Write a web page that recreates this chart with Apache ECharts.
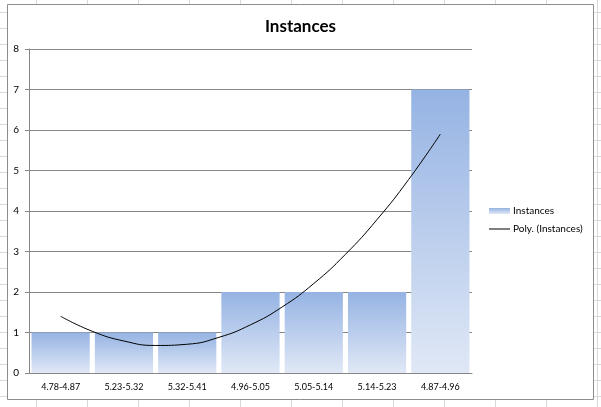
<!DOCTYPE html>
<html>
<head>
<meta charset="utf-8">
<script src="https://cdn.jsdelivr.net/npm/echarts@6/dist/echarts.min.js"></script>
<style>
html, body { margin: 0; padding: 0; }
body {
	width: 601px; height: 407px; overflow: hidden;
	background-color: #fff;
	background-image:
		linear-gradient(to right, #d9d9d9 1px, transparent 1px),
		linear-gradient(to bottom, #d9d9d9 1px, transparent 1px);
	background-size: 51px 16px, 51px 16px;
	background-position: 36px 0, 0 12px;
}
#chart { width: 601px; height: 407px; }
</style>
</head>
<body>
<div id="chart"></div>
<script>
var categories = ['4.78-4.87', '5.23-5.32', '5.32-5.41', '4.96-5.05', '5.05-5.14', '5.14-5.23', '4.87-4.96'];
var instances = [1, 1, 1, 2, 2, 2, 7];
// trend line, position 1 = first category centre
var trendPos = [1, 1.5, 2, 2.5, 3, 3.5, 4, 4.5, 5, 5.5, 6, 6.5, 7];
var trendVal = [1.40, 1.03, 0.79, 0.68, 0.71, 0.88, 1.19, 1.63, 2.21, 2.93, 3.79, 4.78, 5.9];
var yTicks = [0, 8, 1];

var chart = echarts.init(document.getElementById('chart'));
var font = 'Lato';
var trendData = trendPos.map(function (p, i) { return [p, trendVal[i]]; });

var option = {
	backgroundColor: 'transparent',
	animation: false,
	title: {
		text: 'Instances',
		left: 'center',
		top: 13,
		textStyle: { fontFamily: font, fontSize: 17, fontWeight: 'bold', color: '#000' }
	},
	graphic: [{
		type: 'rect',
		z: -10,
		shape: { x: 7.5, y: 4.5, width: 586, height: 395 },
		style: { fill: '#fff', stroke: '#8c8c8c', lineWidth: 1 }
	}],
	legend: {
		orient: 'vertical',
		left: 484,
		top: 201,
		itemGap: 8,
		itemWidth: 21,
		itemHeight: 6,
		textStyle: { fontFamily: font, fontSize: 10, color: '#000', padding: [0, 0, 0, -2] },
		data: [
			{ name: 'Instances', icon: 'rect' },
			{ name: 'Poly. (Instances)', icon: 'path://M0,0 L0.01,0 L0.01,6 L0,6 Z M0,2.5 L22,2.5 L22,3.5 L0,3.5 Z' }
		]
	},
	grid: { left: 29, right: 129, top: 49, bottom: 34 },
	xAxis: [{
		type: 'category',
		data: categories,
		axisLine: { lineStyle: { color: '#868686' } },
		axisTick: { length: 4, lineStyle: { color: '#868686' } },
		axisLabel: { fontFamily: font, fontSize: 9, color: '#000', margin: 10 }
	}, {
		type: 'value',
		min: 0.5,
		max: 7.5,
		show: false
	}],
	yAxis: {
		type: 'value',
		min: yTicks[0],
		max: yTicks[1],
		interval: yTicks[2],
		axisLine: { show: true, lineStyle: { color: '#868686' } },
		axisTick: { show: true, length: 4, lineStyle: { color: '#868686' } },
		axisLabel: { fontFamily: font, fontSize: 10, color: '#000', margin: 10 },
		splitLine: { lineStyle: { color: '#868686' } }
	},
	series: [{
		name: 'Instances',
		type: 'bar',
		data: instances,
		barCategoryGap: '8%',
		itemStyle: {
			color: new echarts.graphic.LinearGradient(0, 0, 0, 1, [
				{ offset: 0, color: '#95b3e3' },
				{ offset: 1, color: '#e0e8f6' }
			])
		}
	}, {
		name: 'Poly. (Instances)',
		type: 'line',
		xAxisIndex: 1,
		data: trendData,
		smooth: true,
		symbol: 'none',
		lineStyle: { color: '#000', width: 1 },
		itemStyle: { color: '#000' },
		z: 5
	}]
};
chart.setOption(option);
</script>
</body>
</html>
